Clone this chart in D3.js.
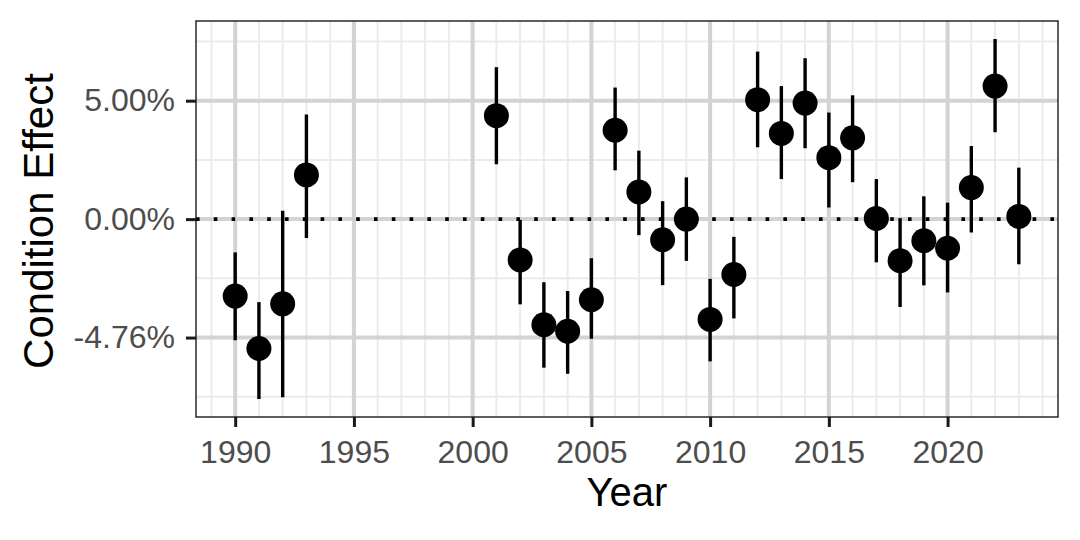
<!DOCTYPE html>
<html>
<head>
<meta charset="utf-8">
<script src="https://cdn.jsdelivr.net/npm/d3@7"></script>
<style>
  body { margin: 0; background: #fff; }
  text { font-family: 'Liberation Sans', Arial, Helvetica, sans-serif; }
</style>
</head>
<body>
<div class="main-content"></div>
<script>
// condition effect per year, on the log scale (estimate, lower, upper)
var years = [1990, 1991, 1992, 1993, 2001, 2002, 2003, 2004, 2005, 2006, 2007, 2008,
  2009, 2010, 2011, 2012, 2013, 2014, 2015, 2016, 2017, 2018, 2019, 2020, 2021, 2022, 2023]
var estimates = [-0.0317, -0.0533, -0.0349, 0.0182, 0.0426, -0.0168, -0.0435, -0.0462, -0.0332,
  0.0366, 0.0112, -0.0085, 0.0000, -0.0413, -0.0228, 0.0492, 0.0353, 0.0478, 0.0253, 0.0335,
  0.0003, -0.0171, -0.0089, -0.0120, 0.0130, 0.0548, 0.0011]
var lowers = [-0.0499, -0.0741, -0.0734, -0.0078, 0.0226, -0.0351, -0.0612, -0.0637, -0.0493,
  0.0201, -0.0066, -0.0272, -0.0172, -0.0586, -0.0409, 0.0296, 0.0165, 0.0292, 0.0048, 0.0152,
  -0.0178, -0.0362, -0.0273, -0.0302, -0.0055, 0.0358, -0.0186]
var uppers = [-0.0137, -0.0342, 0.0034, 0.0431, 0.0626, -0.0003, -0.0260, -0.0296, -0.0161,
  0.0542, 0.0282, 0.0074, 0.0172, -0.0246, -0.0073, 0.0690, 0.0548, 0.0663, 0.0439, 0.0510,
  0.0165, 0.0004, 0.0094, 0.0068, 0.0301, 0.0742, 0.0212]

var xTickValues = [1990, 1995, 2000, 2005, 2010, 2015, 2020]
var xMinorValues = d3.range(1989, 2025)
var step = Math.log(1.05)
var yTickValues = [step, 0, -step]
var yTickLabels = ['5.00%', '0.00%', '-4.76%']
var yMinorValues = [1.5 * step, 0.5 * step, -0.5 * step, -1.5 * step]

const svgWidth = 1080
const svgHeight = 540
const panelLeft = 196
const panelRight = 1058
const panelTop = 21
const panelBottom = 417
const pointRadius = 12.5

var data = years.map(function(y, i) {
  return { year: y, est: estimates[i], lo: lowers[i], hi: uppers[i] }
})

var xPad = (d3.max(years) - d3.min(years)) * 0.05
var x = d3.scaleLinear()
  .domain([d3.min(years) - xPad, d3.max(years) + xPad])
  .range([panelLeft, panelRight])

var yLo = d3.min(lowers)
var yHi = d3.max(uppers)
var yPad = (yHi - yLo) * 0.05
var y = d3.scaleLinear()
  .domain([yLo - yPad, yHi + yPad])
  .range([panelBottom, panelTop])

var svg = d3.select('.main-content')
  .append('svg')
  .attr('width', svgWidth)
  .attr('height', svgHeight)

var panel = svg.append('g')

// minor grid
panel.selectAll('.xMinor')
  .data(xMinorValues.filter(function(d) { return xTickValues.indexOf(d) < 0 && x(d) > panelLeft && x(d) < panelRight }))
  .enter()
  .append('line')
  .attr('class', 'xMinor')
  .attr('x1', x).attr('x2', x)
  .attr('y1', panelTop).attr('y2', panelBottom)
  .attr('stroke', '#ebebeb')
  .attr('stroke-width', 2)

panel.selectAll('.yMinor')
  .data(yMinorValues)
  .enter()
  .append('line')
  .attr('class', 'yMinor')
  .attr('x1', panelLeft).attr('x2', panelRight)
  .attr('y1', y).attr('y2', y)
  .attr('stroke', '#ebebeb')
  .attr('stroke-width', 2)

// major grid
panel.selectAll('.xMajor')
  .data(xTickValues)
  .enter()
  .append('line')
  .attr('class', 'xMajor')
  .attr('x1', x).attr('x2', x)
  .attr('y1', panelTop).attr('y2', panelBottom)
  .attr('stroke', '#d3d3d3')
  .attr('stroke-width', 4)

panel.selectAll('.yMajor')
  .data(yTickValues)
  .enter()
  .append('line')
  .attr('class', 'yMajor')
  .attr('x1', panelLeft).attr('x2', panelRight)
  .attr('y1', y).attr('y2', y)
  .attr('stroke', '#d3d3d3')
  .attr('stroke-width', 4)

// dotted zero line
panel.append('line')
  .attr('x1', panelLeft).attr('x2', panelRight)
  .attr('y1', y(0)).attr('y2', y(0))
  .attr('stroke', '#000')
  .attr('stroke-width', 3.6)
  .attr('stroke-dasharray', '3.6,14.2')

// error bars and points
panel.selectAll('.bar')
  .data(data)
  .enter()
  .append('line')
  .attr('class', 'bar')
  .attr('x1', function(d) { return x(d.year) })
  .attr('x2', function(d) { return x(d.year) })
  .attr('y1', function(d) { return y(d.lo) })
  .attr('y2', function(d) { return y(d.hi) })
  .attr('stroke', '#000')
  .attr('stroke-width', 3.4)

panel.selectAll('.point')
  .data(data)
  .enter()
  .append('circle')
  .attr('class', 'point')
  .attr('cx', function(d) { return x(d.year) })
  .attr('cy', function(d) { return y(d.est) })
  .attr('r', pointRadius)
  .attr('fill', '#000')

// panel border
svg.append('rect')
  .attr('x', panelLeft).attr('y', panelTop)
  .attr('width', panelRight - panelLeft)
  .attr('height', panelBottom - panelTop)
  .attr('fill', 'none')
  .attr('stroke', '#1a1a1a')
  .attr('stroke-width', 1.4)

// axes
var xAxis = d3.axisBottom(x)
  .tickValues(xTickValues)
  .tickFormat(d3.format('d'))
  .tickSize(10)
  .tickPadding(13)
var gx = svg.append('g')
  .attr('transform', 'translate(0,' + panelBottom + ')')
  .call(xAxis)
gx.select('.domain').remove()
gx.selectAll('line').attr('stroke', '#1a1a1a').attr('stroke-width', 3)
gx.selectAll('text')
  .attr('fill', '#4d4d4d')
  .style('font-size', '32px')

var yAxis = d3.axisLeft(y)
  .tickValues(yTickValues)
  .tickFormat(function(d, i) { return yTickLabels[i] })
  .tickSize(10)
  .tickPadding(11)
var gy = svg.append('g')
  .attr('transform', 'translate(' + panelLeft + ',0)')
  .call(yAxis)
gy.select('.domain').remove()
gy.selectAll('line').attr('stroke', '#1a1a1a').attr('stroke-width', 3)
gy.selectAll('text')
  .attr('fill', '#4d4d4d')
  .style('font-size', '32px')

// axis titles
svg.append('text')
  .attr('x', (panelLeft + panelRight) / 2)
  .attr('y', 506)
  .attr('text-anchor', 'middle')
  .style('font-size', '40px')
  .attr('fill', '#000')
  .text('Year')

svg.append('text')
  .attr('transform', 'translate(53,' + (panelTop + panelBottom + 4) / 2 + ') rotate(-90)')
  .attr('text-anchor', 'middle')
  .style('font-size', '42px')
  .attr('fill', '#000')
  .text('Condition Effect')
</script>
</body>
</html>
